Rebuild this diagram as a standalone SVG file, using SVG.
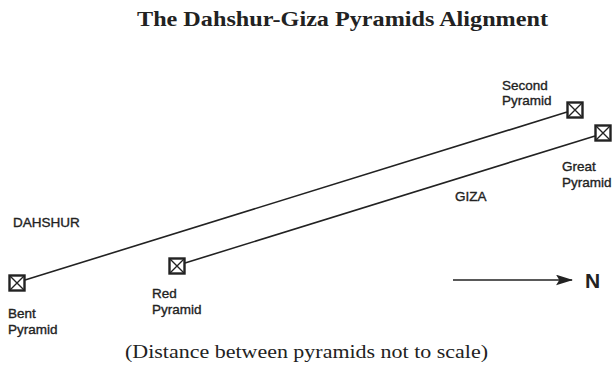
<svg xmlns="http://www.w3.org/2000/svg" width="614" height="369" viewBox="0 0 614 369">
<defs>
<style>
.t{font-family:"Liberation Serif",serif;fill:#222}
.l{font-family:"Liberation Sans",Arial,sans-serif;font-size:13.5px;fill:#222;stroke:#222;stroke-width:0.35}
.box{fill:#fff;stroke:#222;stroke-width:2.4}
.x{stroke:#222;stroke-width:1.4}
.c{stroke:#222;stroke-width:1.6;fill:none}
</style>
<marker id="ah" viewBox="0 0 16 10" refX="15" refY="5" markerWidth="17" markerHeight="11" markerUnits="userSpaceOnUse" orient="auto">
<path d="M0,0 L16,5 L0,10 L3,5 z" fill="#222"/>
</marker>
<g id="pb">
<rect class="box" x="-7.5" y="-7.5" width="15" height="15"/>
<path class="x" d="M-7,-7 L7,7 M7,-7 L-7,7"/>
</g>
</defs>
<rect width="614" height="369" fill="#fff"/>
<text class="t" x="137" y="26" font-size="21" font-weight="bold" textLength="411" lengthAdjust="spacingAndGlyphs">The Dahshur-Giza Pyramids Alignment</text>
<g id="connectors">
<line class="c" x1="25" y1="280" x2="567" y2="112"/>
<line class="c" x1="185" y1="263" x2="595" y2="136"/>
<line class="c" x1="453" y1="280" x2="572" y2="280" stroke-width="2" marker-end="url(#ah)"/>
</g>
<g id="bent"><use href="#pb" x="17" y="283"/><text class="l" x="8" y="318">Bent</text><text class="l" x="8" y="334">Pyramid</text></g>
<g id="red"><use href="#pb" x="177" y="266"/><text class="l" x="152" y="298">Red</text><text class="l" x="152" y="314">Pyramid</text></g>
<g id="second"><use href="#pb" x="575" y="110"/><text class="l" x="502" y="90">Second</text><text class="l" x="502" y="105">Pyramid</text></g>
<g id="great"><use href="#pb" x="603" y="133"/><text class="l" x="562" y="171">Great</text><text class="l" x="562" y="187">Pyramid</text></g>
<g id="dahshur"><text class="l" x="13" y="227">DAHSHUR</text></g>
<g id="giza"><text class="l" x="455" y="201">GIZA</text></g>
<g id="north"><text x="585" y="288" font-family="Liberation Sans,Arial,sans-serif" font-size="21" font-weight="bold" fill="#222">N</text></g>
<text class="t" x="125" y="358" font-size="19" textLength="363" lengthAdjust="spacingAndGlyphs">(Distance between pyramids not to scale)</text>
</svg>
